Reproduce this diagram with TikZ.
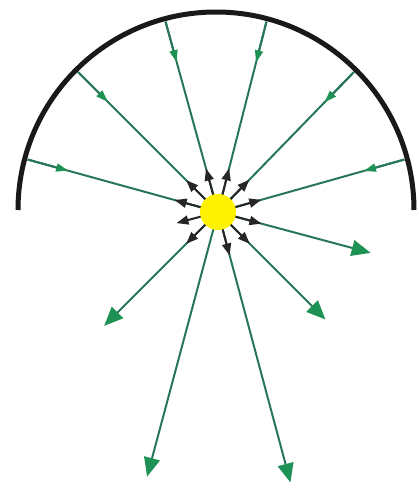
\documentclass[tikz,border=0pt]{standalone}
\usepackage{tikz}
\usetikzlibrary{arrows.meta,calc}
\definecolor{raygreen}{RGB}{40,118,88}
\definecolor{tipgreen}{RGB}{30,145,85}

\begin{document}
\begin{tikzpicture}[x=1pt,y=1pt,
     ray/.style={draw=raygreen,line width=2pt},
     inray/.style={ray,-{Triangle[length=12pt,width=8pt,color=tipgreen]}},
     outray/.style={ray,-{Triangle[length=19pt,width=16pt,color=tipgreen]}},
     spike/.style={draw=black!85,line width=2pt,-{Triangle[length=12pt,width=9pt]}},
     sun/.style={circle,fill=yellow,minimum size=36pt,inner sep=0pt}]
  \useasboundingbox (0,0) rectangle (419,491);
  \coordinate (o) at (216,281);
  \coordinate (c) at (218,279);
  \draw[line width=5pt,black!90] (18,281) arc[start angle=180,end angle=0,radius=198];
  % incoming light
  \foreach \ang [count=\i] in {165,135,105,75,45,15} {
    \coordinate (a\i) at ($(o)+(\ang:195)$);
    \draw[ray] (a\i) -- (c);
    \draw[inray] (a\i) -- ($(a\i)!42pt!(c)$);
    \draw[spike] (c) -- ($(c)!45pt!(a\i)$);
  }
  % reflected light
  \foreach \ang/\len [count=\i] in {-15/158,-45/152,-75/280,-105/274,-135/161} {
    \coordinate (e\i) at ($(c)+(\ang:\len)$);
    \draw[outray] (c) -- (e\i);
  }
  \foreach \i in {1,2,3,5} \draw[spike] (c) -- ($(c)!45pt!(e\i)$);
  \draw[spike] (c) -- ++(-165:43);
  \node[sun] (src) at (c) {};
\end{tikzpicture}
\end{document}
